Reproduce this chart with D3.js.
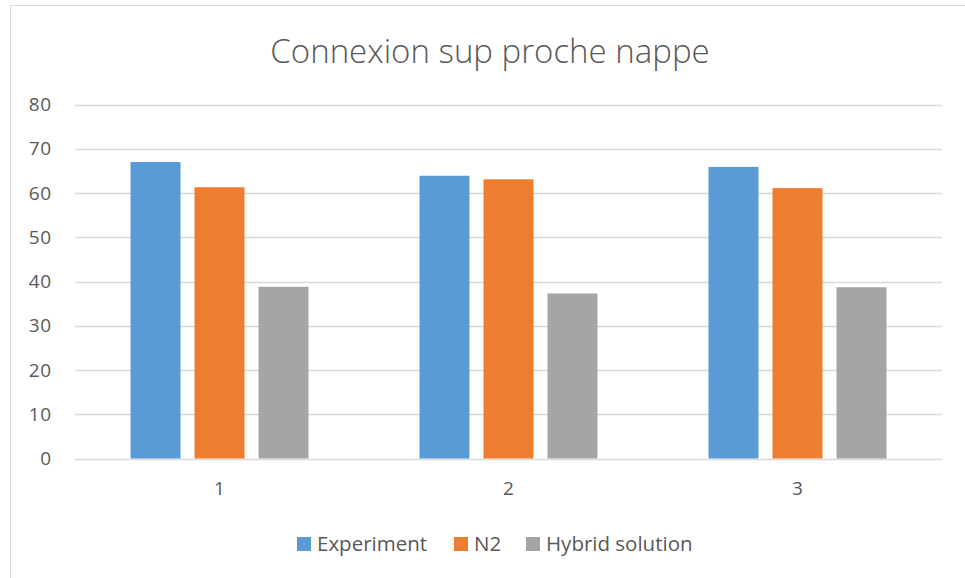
<!DOCTYPE html>
<html>
<head>
<meta charset="utf-8">
<script src="https://cdn.jsdelivr.net/npm/d3@7"></script>
<style>
  html, body { margin: 0; padding: 0; background: #fff; }
  svg { display: block; }
  text { font-family: "Open Sans", "Liberation Sans", sans-serif; fill: #595959; }
</style>
</head>
<body>
<svg id="chart" width="965" height="578"></svg>
<script>
// Chart data
const title = "Connexion sup proche nappe";
const categories = ["1", "2", "3"];
const seriesNames = ["Experiment", "N2", "Hybrid solution"];
const experiment = [67.0, 63.9, 65.9];
const n2 = [61.3, 63.1, 61.1];
const hybrid = [38.8, 37.3, 38.7];
const yTicks = [0, 10, 20, 30, 40, 50, 60, 70, 80];
const colors = ["#5B9BD5", "#ED7D31", "#A5A5A5"];

const seriesValues = [experiment, n2, hybrid];
const rows = categories.map((c, i) => ({
  cat: c,
  values: seriesNames.map((s, j) => ({ series: s, value: seriesValues[j][i], idx: j }))
}));

const svg = d3.select("#chart");

// Outer chart frame
svg.append("rect")
  .attr("x", 10.5).attr("y", 5.5)
  .attr("width", 980).attr("height", 600)
  .attr("fill", "#fff").attr("stroke", "#d9d9d9").attr("stroke-width", 1);

const plot = { left: 75, right: 942, top: 104.5, bottom: 458.5 };

const y = d3.scaleLinear().domain([0, 80]).range([plot.bottom, plot.top]);
const x0 = d3.scaleBand().domain(categories).range([plot.left, plot.right]).paddingInner(0).paddingOuter(0);
const clusterFrac = 178 / 289;
const x1 = d3.scaleBand().domain(seriesNames)
  .range([0, x0.bandwidth() * clusterFrac])
  .paddingInner(14 / 64).paddingOuter(0);
const clusterOffset = x0.bandwidth() * (1 - clusterFrac) / 2;

// Gridlines
svg.append("g")
  .selectAll("line")
  .data(yTicks)
  .join("line")
  .attr("x1", plot.left).attr("x2", plot.right)
  .attr("y1", d => Math.round(y(d)) + 0.5).attr("y2", d => Math.round(y(d)) + 0.5)
  .attr("stroke", "#d9d9d9").attr("stroke-width", 1.3);

// Y axis labels
const yAxis = d3.axisLeft(y).tickValues(yTicks).tickSize(0).tickPadding(0);
const gy = svg.append("g").attr("transform", `translate(52,0)`).call(yAxis);
gy.attr("font-size", null).attr("font-family", null);
gy.select(".domain").remove();
gy.selectAll("text")
  .style("font-size", "19px")
  .style("letter-spacing", "0.8px")
  .attr("fill", "#595959");

// Bars
const groups = svg.append("g").selectAll("g")
  .data(rows)
  .join("g")
  .attr("transform", d => `translate(${x0(d.cat) + clusterOffset},0)`);

groups.selectAll("rect")
  .data(d => d.values)
  .join("rect")
  .attr("x", d => x1(d.series))
  .attr("y", d => y(d.value))
  .attr("width", x1.bandwidth())
  .attr("height", d => y(0) - y(d.value))
  .attr("fill", d => colors[d.idx]);

// X axis labels
const xAxis = d3.axisBottom(x0).tickSize(0).tickPadding(0);
const gx = svg.append("g").attr("transform", `translate(0,${plot.bottom + 23})`).call(xAxis);
gx.attr("font-size", null).attr("font-family", null);
gx.select(".domain").remove();
gx.selectAll("text")
  .style("font-size", "19px")
  .attr("fill", "#595959");

// Title
svg.append("text")
  .attr("x", 490).attr("y", 63)
  .attr("text-anchor", "middle")
  .style("font-size", "33px")
  .attr("font-weight", 300)
  .text(title);

// Legend
const legendX = [297, 454, 526];
const legend = svg.append("g").selectAll("g")
  .data(seriesNames)
  .join("g")
  .attr("transform", (d, i) => `translate(${legendX[i]},537)`);
legend.append("rect").attr("width", 14).attr("height", 14).attr("fill", (d, i) => colors[i]);
legend.append("text")
  .attr("x", 20).attr("y", 14)
  .style("font-size", "20.5px")
  .text(d => d);
</script>
</body>
</html>
